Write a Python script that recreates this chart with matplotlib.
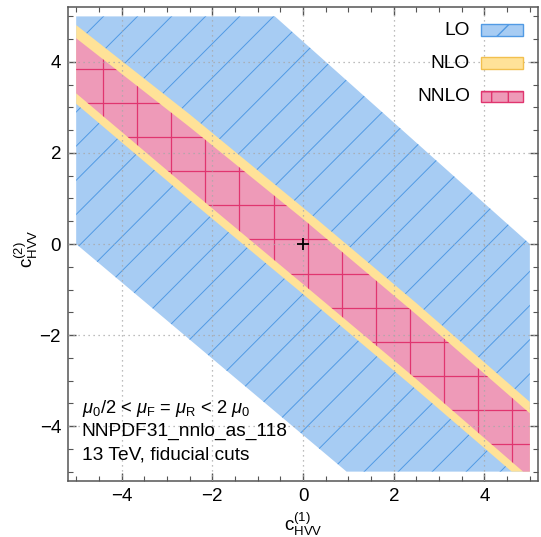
import numpy as np
import matplotlib
matplotlib.use("Agg")
import matplotlib.pyplot as plt
from matplotlib.patches import Polygon, Rectangle
from matplotlib.collections import LineCollection

plt.rcParams['font.family'] = ['Liberation Sans', 'DejaVu Sans']
plt.rcParams['mathtext.fontset'] = 'custom'
plt.rcParams['mathtext.rm'] = 'Liberation Sans'
plt.rcParams['mathtext.it'] = 'Liberation Sans:italic'
plt.rcParams['mathtext.bf'] = 'Liberation Sans:bold'

# LO allowed region (clipped to the scan box)
lo_x = [-5, -0.62, 5, 5, 0.96, -5]
lo_y = [5, 5, 0, -5, -5, 0]

# NLO band: upper / lower outer edges
nlo_up_x = [-5, -2.5, 0, 2.5, 5]
nlo_up_y = [4.81, 2.85, 0.80, -1.30, -3.47]
nlo_lo_x = [-5, -2.5, 0, 2.5, 4.6]
nlo_lo_y = [3.08, 0.97, -1.10, -3.20, -5]

# NNLO band: upper / lower edges
nnlo_up_x = [-5, -2.5, 0, 2.5, 5]
nnlo_up_y = [4.52, 2.57, 0.55, -1.55, -3.72]
nnlo_lo_x = [-5, -2.5, 0, 2.5, 4.85]
nnlo_lo_y = [3.31, 1.20, -0.88, -2.97, -5]

sm_point = (0, 0)
labels = ["LO", "NLO", "NNLO"]
info = [r"$\mu_0/2$ < $\mu_\mathrm{F}$ = $\mu_\mathrm{R}$ < 2 $\mu_0$",
        "NNPDF31_nnlo_as_118",
        "13 TeV, fiducial cuts"]

blue, blue_line = '#A7CCF3', '#519AE4'
yellow, yellow_edge = '#FFE298', '#F2C04E'
pink, pink_line = '#EE9AB8', '#E0356F'

fig = plt.figure(figsize=(5.41, 5.37), dpi=100)
ax = fig.add_axes([0.1257, 0.1048, 0.8688, 0.8816])


def band(up_x, up_y, lo_x_, lo_y_):
    # polygon = upper edge left->right, box corner, lower edge right->left
    pts = list(zip(up_x, up_y)) + [(5, -5)] + list(zip(lo_x_, lo_y_))[::-1]
    return pts


lo_patch = Polygon(list(zip(lo_x, lo_y)), closed=True, facecolor=blue,
                   edgecolor='none', zorder=1)
ax.add_patch(lo_patch)
offs = 0.4 + 0.75 * np.arange(-16, 16)
segs = [[(-6, -6 + c), (6, 6 + c)] for c in offs]
lc = LineCollection(segs, colors=blue_line, linewidths=0.7, zorder=1.5)
ax.add_collection(lc)
lc.set_clip_path(lo_patch)

nlo_patch = Polygon(band(nlo_up_x, nlo_up_y, nlo_lo_x, nlo_lo_y), closed=True,
                    facecolor=yellow, edgecolor='none', zorder=2)
ax.add_patch(nlo_patch)

nnlo_patch = Polygon(band(nnlo_up_x, nnlo_up_y, nnlo_lo_x, nnlo_lo_y), closed=True,
                     facecolor=pink, edgecolor='none', zorder=3)
ax.add_patch(nnlo_patch)
g = -4.4 + 0.75 * np.arange(0, 14)
segs = [[(v, -6), (v, 6)] for v in g] + [[(-6, v), (6, v)] for v in g]
gc = LineCollection(segs, colors=pink_line, linewidths=0.9, zorder=3.5)
ax.add_collection(gc)
gc.set_clip_path(nnlo_patch)

# SM point
ax.plot(*sm_point, marker='+', color='black', markersize=9, mew=1.3, zorder=6)

# dotted grid
for v in [-4, -2, 0, 2, 4]:
    ax.axvline(v, color='#A8A8A8', lw=0.9, ls=(0, (1, 3)), zorder=5)
    ax.axhline(v, color='#A8A8A8', lw=0.9, ls=(0, (1, 3)), zorder=5)

ax.set_xlim(-5.18, 5.18)
ax.set_ylim(-5.2, 5.2)
ax.set_xticks([-4, -2, 0, 2, 4])
ax.set_yticks([-4, -2, 0, 2, 4])
ax.set_xticklabels(['\u22124', '\u22122', '0', '2', '4'])
ax.set_yticklabels(['\u22124', '\u22122', '0', '2', '4'])
ax.set_xticks(np.arange(-5, 5.01, 0.5), minor=True)
ax.set_yticks(np.arange(-5, 5.01, 0.5), minor=True)
ax.tick_params(which='both', direction='in', top=True, right=True,
               color='#555555', labelsize=13.5, pad=5)
ax.tick_params(which='major', length=6, width=1)
ax.tick_params(which='minor', length=3.5, width=0.8)
for s in ax.spines.values():
    s.set_color('#555555')
    s.set_linewidth(1.1)

ax.set_xlabel(r'$\mathrm{c}_{\mathrm{HVV}}^{(1)}$', fontsize=13.5)
ax.set_ylabel(r'$\mathrm{c}_{\mathrm{HVV}}^{(2)}$', fontsize=13.5)
ax.xaxis.set_label_coords(0.5, -0.064)
ax.yaxis.set_label_coords(-0.06, 0.49)

# legend drawn by hand
ys = [0.952, 0.882, 0.811]
styles = [dict(facecolor=blue, edgecolor=blue_line, hatch='/'),
          dict(facecolor=yellow, edgecolor=yellow_edge),
          dict(facecolor=pink, edgecolor=pink_line, hatch='+')]
for lab, y, st in zip(labels, ys, styles):
    ax.text(0.855, y, lab, transform=ax.transAxes, ha='right', va='center',
            fontsize=13.8, zorder=8)
    ax.add_patch(Rectangle((0.878, y - 0.012), 0.089, 0.024, transform=ax.transAxes,
                           lw=1, zorder=8, **st))

sizes = [13.2, 13.8, 13.8]
for i, t in enumerate(info):
    ax.text(0.029, 0.143 - i * 0.049, t, transform=ax.transAxes, ha='left',
            va='baseline', fontsize=sizes[i], zorder=8)

fig.savefig('out.png', dpi=100)
